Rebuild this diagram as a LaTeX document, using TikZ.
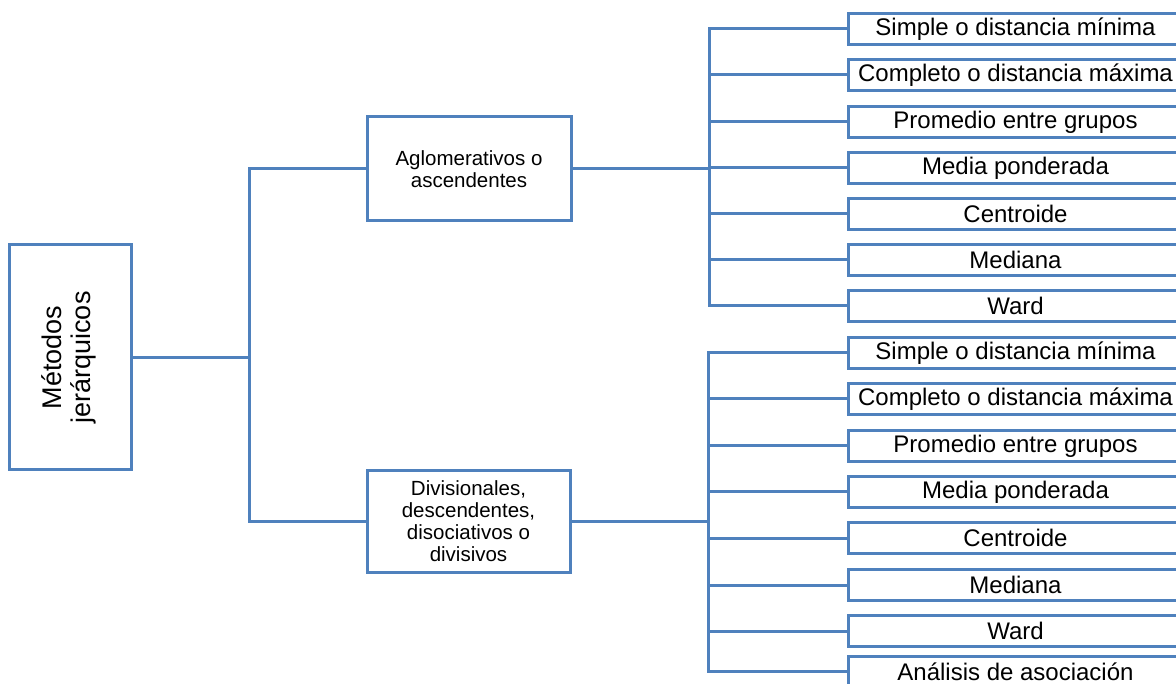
\documentclass[tikz,border=0pt]{standalone}
\usepackage{fontspec}
\setmainfont{Liberation Sans}
\definecolor{linkblue}{RGB}{79,129,189}
\begin{document}
\begin{tikzpicture}[x=1pt,y=-1pt,
  box/.style={draw=linkblue, line width=3pt, inner sep=0pt, align=center, text=black},
  leaf/.style={box, anchor=west, minimum width=334pt, minimum height=31pt,
    font=\fontsize{24}{27}\selectfont},
  mid/.style={box, font=\fontsize{20.5}{22}\selectfont},
  link/.style={draw=linkblue, line width=3pt, line join=miter}]
\useasboundingbox (0,0) rectangle (1176,684);
\clip (0,0) rectangle (1176,684);

% root
\node[box, minimum width=122pt, minimum height=225pt] (root) at (70,357.5)
  {\rotatebox{90}{\fontsize{27}{29}\selectfont\begin{tabular}{@{}c@{}}Métodos\\jerárquicos\end{tabular}}};

% second level
\node[mid, minimum width=204pt, minimum height=104pt] (agg) at (469,169)
  {Aglomerativos o\\ascendentes};
\node[mid, minimum width=203pt, minimum height=101pt] (div) at (468.5,521.5)
  {Divisionales,\\descendentes,\\disociativos o\\divisivos};

% junction points
\coordinate (lt1) at (249,169);
\coordinate (lt2) at (249,521.5);
\coordinate (rt) at (709,0);
\coordinate (rb) at (708,0);

% leaves of the agglomerative branch
\foreach \t/\y [count=\i] in {Simple o distancia mínima/29, Completo o distancia máxima/75,
    Promedio entre grupos/122, Media ponderada/168, Centroide/214, Mediana/260, Ward/306}
  \node[leaf] (a\i) at (847,\y) {\t};

% leaves of the divisive branch
\foreach \t/\y [count=\i] in {Simple o distancia mínima/353, Completo o distancia máxima/399,
    Promedio entre grupos/446, Media ponderada/492, Centroide/538, Mediana/585, Ward/631,
    Análisis de asociación/671.5}
  \node[leaf] (b\i) at (847,\y) {\t};

% connectors
\draw[link] (root.east) -- (root.east -| lt1);
\draw[link] (agg.west) -- (lt1) -- (lt2) -- (div.west);

\draw[link] (agg.east) -- (agg.east -| rt);
\draw[link] (a1.west) -- (a1.west -| rt) -- (a7.west -| rt) -- (a7.west);
\foreach \i in {2,...,6}
  \draw[link] (a\i.west -| rt) -- (a\i.west);

\draw[link] (div.east) -- (div.east -| rb);
\draw[link] (b1.west) -- (b1.west -| rb) -- (b8.west -| rb) -- (b8.west);
\foreach \i in {2,...,7}
  \draw[link] (b\i.west -| rb) -- (b\i.west);
\end{tikzpicture}
\end{document}
